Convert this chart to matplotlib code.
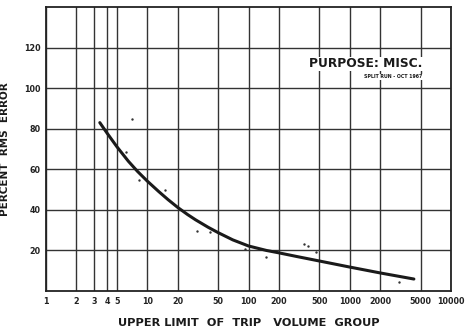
import matplotlib
matplotlib.use("Agg")
import matplotlib.pyplot as plt
from matplotlib.ticker import FixedLocator, NullLocator

plt.rcParams['font.family'] = ['DejaVu Sans']

# Fitted curve
curve_x = [3.4, 4, 5, 6.5, 8, 10, 13, 16, 20, 25, 30, 40, 50, 70, 100, 150, 200, 300, 500, 1000, 2000, 4300]
curve_y = [83, 77.9, 71.2, 64.0, 59.0, 54.2, 49.0, 45.1, 41.2, 37.7, 35.1, 31.4, 28.8, 25.2, 22.2,
           20.0, 18.8, 17.0, 14.8, 11.8, 8.9, 5.9]

# Observed points
pts_x = [6.1, 7.1, 8.2, 15, 31, 42, 92, 150, 350, 390, 460, 3080]
pts_y = [68.6, 85, 54.8, 50, 29.6, 29, 20.7, 16.8, 23.2, 22.2, 19.3, 4.4]

x_ticks = [1, 2, 3, 4, 5, 10, 20, 50, 100, 200, 500, 1000, 2000, 5000, 10000]
x_labels = ['1', '2', '3', '4', '5', '10', '20', '50', '100', '200', '500', '1000', '2000', '5000', '10000']
y_ticks = [20, 40, 60, 80, 100, 120]

fig = plt.figure(figsize=(4.74, 3.34), dpi=100)
ax = fig.add_axes([46/474, 43/334, 405/474, 284/334])
ax.set_xscale('log')
ax.set_xlim(1, 10000)
ax.set_ylim(0, 140)

ax.xaxis.set_major_locator(FixedLocator(x_ticks))
ax.xaxis.set_minor_locator(NullLocator())
ax.set_xticklabels(x_labels, fontsize=5.8, fontweight='bold', color='#222222')
ax.set_yticks(y_ticks)
ax.set_yticklabels([str(v) for v in y_ticks], fontsize=5.8, fontweight='bold', color='#222222')
ax.tick_params(axis='both', length=0, pad=4)

ax.grid(True, which='major', color='#333333', linewidth=1.0)
for s in ax.spines.values():
    s.set_color('#222222')
    s.set_linewidth(1.3)

ax.plot(curve_x, curve_y, color='#1a1a1a', linewidth=2.2, solid_capstyle='round',
        solid_joinstyle='round', zorder=3)
ax.scatter(pts_x, pts_y, s=3, color='#333333', zorder=4, linewidths=0)

ax.set_xlabel('UPPER LIMIT  OF  TRIP   VOLUME  GROUP', fontsize=8.2, fontweight='heavy',
              color='#1a1a1a', labelpad=9)
ax.set_ylabel('PERCENT  RMS  ERROR', fontsize=7.5, fontweight='heavy', color='#1a1a1a',
              labelpad=10)

ax.text(0.93, 0.8, 'PURPOSE: MISC.', transform=ax.transAxes, ha='right', va='center',
        fontsize=8.8, fontweight='heavy', color='#1a1a1a', zorder=5,
        bbox=dict(facecolor='white', edgecolor='none', pad=0.5))
ax.text(0.93, 0.755, 'SPLIT RUN - OCT 1967', transform=ax.transAxes, ha='right', va='center',
        fontsize=3.4, fontweight='bold', color='#1a1a1a', zorder=5,
        bbox=dict(facecolor='white', edgecolor='none', pad=0.3))

fig.savefig('out.png', dpi=100)
